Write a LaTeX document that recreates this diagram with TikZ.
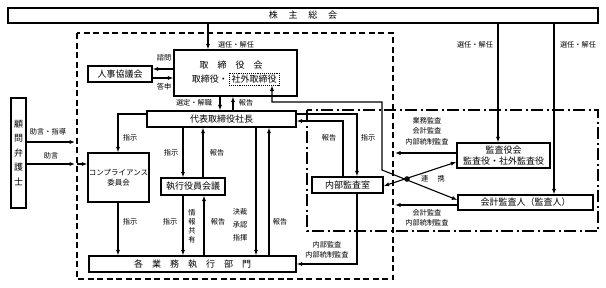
\documentclass[tikz,border=0pt]{standalone}
\usepackage{fontspec}
\setmainfont{Noto Sans CJK JP}
\usetikzlibrary{arrows.meta}

\tikzset{
  box/.style={draw, line width=1.3pt, inner sep=0pt, align=center, font=\fontsize{9}{11}\selectfont},
  lbl/.style={inner sep=0pt, align=center, font=\fontsize{7.2}{10.5}\selectfont},
  arr/.style={line width=1.1pt, -{Latex[length=5.5pt,width=4.2pt]}},
  barr/.style={line width=1.1pt, {Latex[length=5.5pt,width=4.2pt]}-{Latex[length=5.5pt,width=4.2pt]}},
}

\begin{document}
\begin{tikzpicture}[x=1pt, y=-1pt]
    \useasboundingbox (0,0) rectangle (606,287);

    % Frames
    \draw[line width=1.2pt, dash pattern=on 6pt off 3.5pt] (77,33) rectangle (393,279);
    \draw[line width=1.2pt, dash pattern=on 12pt off 3.5pt on 2pt off 3.5pt] (307,110) rectangle (598,231);

    % Boxes
    \node[box, minimum width=590, minimum height=15] (sh) at (303,15.5) {株\hspace{1.2em}主\hspace{1.2em}総\hspace{1.2em}会};
    \node[box, minimum width=123, minimum height=46] (tr) at (235.5,73) {};
    \node[box, draw=none] (trt) at (231,65) {取\hspace{1em}締\hspace{1em}役\hspace{1em}会};
    \node[box, line width=0.9pt, densely dotted, minimum width=50, minimum height=12] (ext) at (254,79) {社外取締役};
    \node[box, draw=none, anchor=east] (trm) at (ext.west) {取締役・};
    \node[box, minimum width=64, minimum height=16] (jk) at (120,74) {人事協議会};
    \node[box, minimum width=149, minimum height=16] (ceo) at (221.5,119) {代表取締役社長};
    \node[box, minimum width=61, minimum height=49, font=\fontsize{7.5}{9.5}\selectfont] (comp) at (118.5,177.5) {コンプライアンス\\委員会};
    \node[box, minimum width=64, minimum height=17] (exe) at (193,186.5) {執行役員会議};
    \node[box, minimum width=207, minimum height=16] (dept) at (192.5,264) {各\hspace{1em}業\hspace{1em}務\hspace{1em}執\hspace{1em}行\hspace{1em}部\hspace{1em}門};
    \node[box, minimum width=71, minimum height=16] (ia) at (347.5,185) {内部監査室};
    \node[box, minimum width=93, minimum height=25, font=\fontsize{9}{11.5}\selectfont] (kan) at (503.5,155.5) {監査役会\\監査役・社外監査役};
    \node[box, minimum width=135, minimum height=15] (kai) at (525.5,202.5) {会計監査人（監査人）};
    \node[box, minimum width=15, minimum height=110, font=\fontsize{9}{14.5}\selectfont] (law) at (18.5,153) {顧\\問\\弁\\護\\士};

    % Shareholders
    \draw[arr] (sh.south -| 208,0) -- (tr.north -| 208,0);
    \draw[arr] (sh.south -| 498,0) -- (kan.north -| 498,0);
    \draw[arr] (sh.south -| 554,0) -- (kai.north -| 554,0);
    \node[lbl] at (236,45) {選任・解任};
    \node[lbl] at (475,45) {選任・解任};
    \node[lbl] at (578,45) {選任・解任};

    % Board
    \draw[arr] (tr.west |- 0,69) -- (jk.east |- 0,69);
    \draw[arr] (jk.east |- 0,78) -- (tr.west |- 0,78);
    \node[lbl] at (164,58) {諮問};
    \node[lbl] at (164,87) {答申};
    \draw[arr] (tr.south -| 220,0) -- (ceo.north -| 220,0);
    \draw[arr] (ceo.north -| 233,0) -- (tr.south -| 233,0);
    \node[lbl] at (194,103) {選定・解職};
    \node[lbl] at (246,103) {報告};

    % Audit links
    \draw[barr] (kai.west |- 0,200) -- (382,170) -- (382,102) -- (272,102) -- (ext.south -| 272,0);
    \draw[barr] (ia.east |- 0,186) -- (kan.west |- 0,162);
    \fill (407,179) circle (2.8pt);
    \node[lbl] at (433,179) {連\hspace{1.3em}携};
    \draw[arr] (kan.west |- 0,153) -- (395,153);
    \node[lbl] at (427,131) {業務監査\\会計監査\\内部統制監査};
    \draw[arr] (kai.west |- 0,205) -- (395,205);
    \node[lbl] at (427,218) {会計監査\\内部統制監査};

    % President
    \draw[arr] (ceo.east |- 0,114) -- (357,114) -- (ia.north -| 357,0);
    \draw[arr] (ia.north -| 343,0) -- (343,121) -- (ceo.east |- 0,121);
    \node[lbl] at (329,138) {報告};
    \node[lbl] at (368,138) {指示};
    \draw[arr] (ia.south -| 357,0) -- (357,264) -- (dept.east |- 0,264);
    \node[lbl] at (327,250) {内部監査\\内部統制監査};
    \draw[arr] (ceo.west |- 0,114) -- (118,114) -- (comp.north -| 118,0);
    \node[lbl] at (130,138) {指示};
    \draw[arr] (comp.south -| 118,0) -- (dept.north -| 118,0);
    \node[lbl] at (130,222) {指示};
    \draw[arr] (ceo.south -| 183,0) -- (exe.north -| 183,0);
    \draw[arr] (exe.north -| 203,0) -- (ceo.south -| 203,0);
    \node[lbl] at (171,153) {指示};
    \node[lbl] at (217,153) {報告};
    \draw[arr] (exe.south -| 183,0) -- (dept.north -| 183,0);
    \draw[arr] (dept.north -| 204,0) -- (exe.south -| 204,0);
    \node[lbl] at (170,222) {指示};
    \node[lbl, font=\fontsize{7.2}{9}\selectfont] at (192,226) {情\\報\\共\\有};
    \node[lbl] at (218,222) {報告};
    \draw[arr] (ceo.south -| 256,0) -- (dept.north -| 256,0);
    \draw[arr] (dept.north -| 269,0) -- (ceo.south -| 269,0);
    \node[lbl, font=\fontsize{7.2}{13}\selectfont] at (240,225) {決裁\\承認\\指揮};
    \node[lbl] at (280,222) {報告};

    % Lawyer
    \draw[arr] (law.east |- 0,142) -- (75,142);
    \node[lbl] at (48,132) {助言・指導};
    \draw[arr] (law.east |- 0,164) -- (75,164);
    \draw[arr] (77,164) -- (comp.west |- 0,164);
    \node[lbl] at (51,156) {助言};
\end{tikzpicture}
\end{document}
